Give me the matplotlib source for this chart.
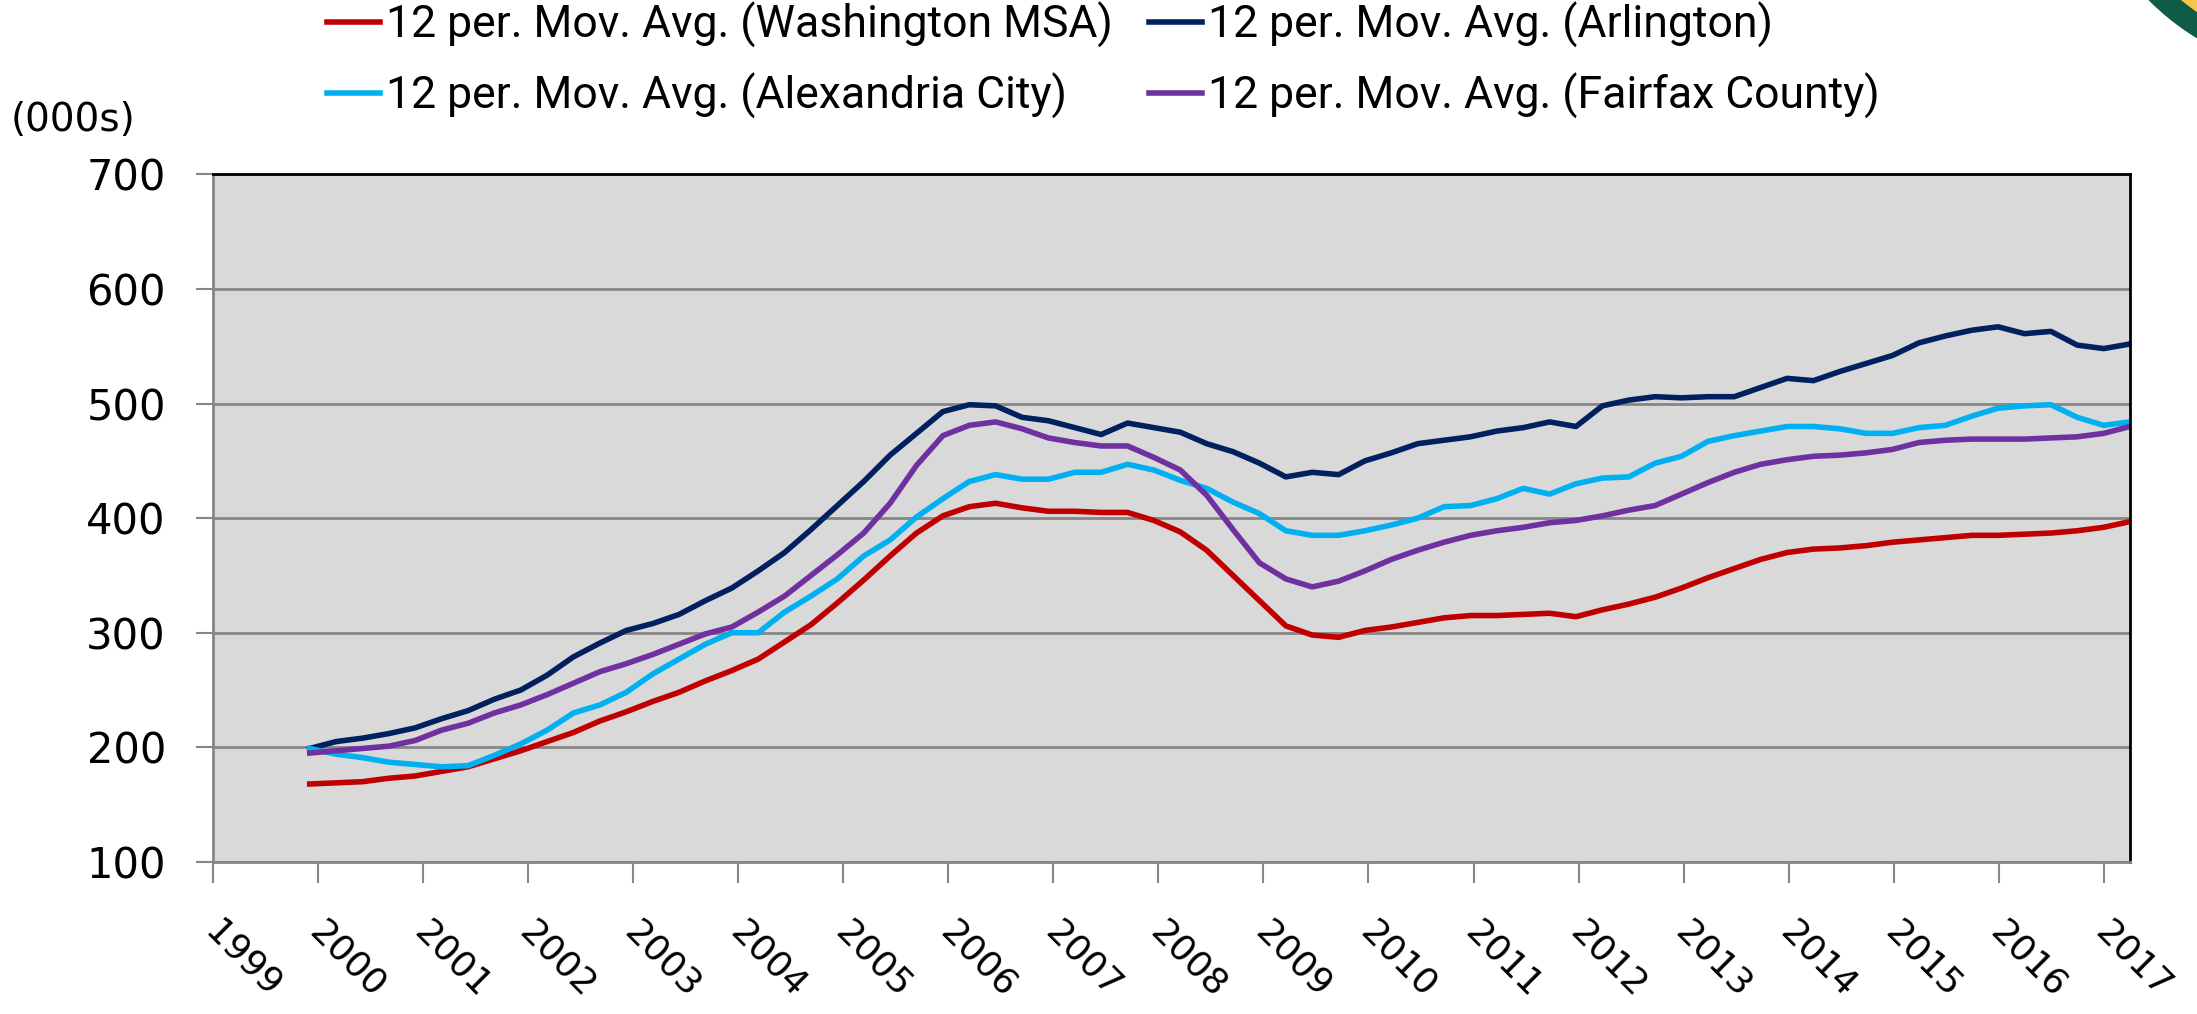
import numpy as np
import matplotlib.pyplot as plt
from matplotlib.patches import Circle
from matplotlib.transforms import ScaledTranslation

# 12 period moving averages, thousands of dollars
# one reading per quarter, Dec 1999 .. Mar 2017
washington = [168, 169, 170, 173, 175, 179, 183, 190, 197, 205,
              213, 223, 231, 240, 248, 258, 267, 277, 292, 307,
              326, 346, 367, 387, 402, 410, 413, 409, 406, 406,
              405, 405, 398, 388, 372, 350, 328, 306, 298, 296,
              302, 305, 309, 313, 315, 315, 316, 317, 314, 320,
              325, 331, 339, 348, 356, 364, 370, 373, 374, 376,
              379, 381, 383, 385, 385, 386, 387, 389, 392, 397]
arlington = [199, 205, 208, 212, 217, 225, 232, 242, 250, 263,
             279, 291, 302, 308, 316, 328, 339, 354, 370, 390,
             411, 432, 455, 474, 493, 499, 498, 488, 485, 479,
             473, 483, 479, 475, 465, 458, 448, 436, 440, 438,
             450, 457, 465, 468, 471, 476, 479, 484, 480, 498,
             503, 506, 505, 506, 506, 514, 522, 520, 528, 535,
             542, 553, 559, 564, 567, 561, 563, 551, 548, 552]
alexandria = [199, 194, 191, 187, 185, 183, 184, 193, 203, 215,
              230, 237, 248, 264, 277, 290, 300, 300, 318, 332,
              347, 367, 381, 401, 417, 432, 438, 434, 434, 440,
              440, 447, 442, 433, 426, 414, 404, 389, 385, 385,
              389, 394, 400, 410, 411, 417, 426, 421, 430, 435,
              436, 448, 454, 467, 472, 476, 480, 480, 478, 474,
              474, 479, 481, 489, 496, 498, 499, 488, 481, 484]
fairfax = [195, 197, 199, 201, 206, 215, 221, 230, 237, 246,
           256, 266, 273, 281, 290, 299, 305, 318, 332, 350,
           368, 387, 413, 446, 472, 481, 484, 478, 470, 466,
           463, 463, 453, 442, 420, 390, 361, 347, 340, 345,
           354, 364, 372, 379, 385, 389, 392, 396, 398, 402,
           407, 411, 421, 431, 440, 447, 451, 454, 455, 457,
           460, 466, 468, 469, 469, 469, 470, 471, 474, 480]

years = list(range(1999, 2018))
names = ["12 per. Mov. Avg. (Washington MSA)",
         "12 per. Mov. Avg. (Arlington)",
         "12 per. Mov. Avg. (Alexandria City)",
         "12 per. Mov. Avg. (Fairfax County)"]
colors = ["#C00000", "#002060", "#00B0F0", "#7030A0"]

fig = plt.figure(figsize=(21.97, 10.14), dpi=100)
ax = fig.add_axes([0.097, 0.15, 0.8725, 0.678])
ax.set_facecolor("#D9D9D9")

x = np.linspace(1999.92, 2017.25, len(washington))
lines = []
for vals, name, col in zip([washington, arlington, alexandria, fairfax], names, colors):
    ln, = ax.plot(x, vals, color=col, lw=4, label=name)
    lines.append(ln)

ax.set_xlim(1999, 2017.25)
ax.set_ylim(100, 700)
ax.set_yticks(range(100, 701, 100))
ax.set_xticks(years)
ax.set_xticklabels([str(y) for y in years])
ax.tick_params(axis="x", length=15, width=1.5, color="#868686", pad=23)
ax.tick_params(axis="y", length=12, width=1.5, color="#868686", pad=22, labelsize=30)
# nudge the slanted year labels so they start at their tick
shift = ScaledTranslation(-0.15, 0, fig.dpi_scale_trans)
for lab in ax.get_xticklabels():
    lab.set_rotation(-45)
    lab.set_ha("left")
    lab.set_va("top")
    lab.set_fontsize(26)
    lab.set_transform(lab.get_transform() + shift)
ax.grid(axis="y", color="#868686", lw=2)
ax.set_axisbelow(True)
for s in ["left", "bottom"]:
    ax.spines[s].set_color("#868686")
    ax.spines[s].set_linewidth(2)
for s in ["top", "right"]:
    ax.spines[s].set_color("black")
    ax.spines[s].set_linewidth(2)

fig.text(0.005, 1 - 120 / 1014, "(000s)", fontsize=28, va="center", ha="left")

# two legend columns, placed separately
legprops = {"family": ["Roboto", "DejaVu Sans"], "size": 32}
col_x = [327 / 2197, 1149 / 2197]
for cx, idx in zip(col_x, [[0, 2], [1, 3]]):
    leg = fig.legend([lines[i] for i in idx], [names[i] for i in idx],
                     loc="upper left", bbox_to_anchor=(cx, 0.998), frameon=False,
                     prop=legprops, handlelength=1.2, handletextpad=0.12,
                     labelspacing=0.55, borderpad=0, borderaxespad=0)

# logo fragment in the top right corner
fig.add_artist(Circle((23.30, 11.94), 2.55, color="#0E5C45", transform=fig.dpi_scale_trans))
fig.add_artist(Circle((23.30, 11.94), 2.33, color="#F7C548", transform=fig.dpi_scale_trans))

fig.savefig("out.png", dpi=100)
